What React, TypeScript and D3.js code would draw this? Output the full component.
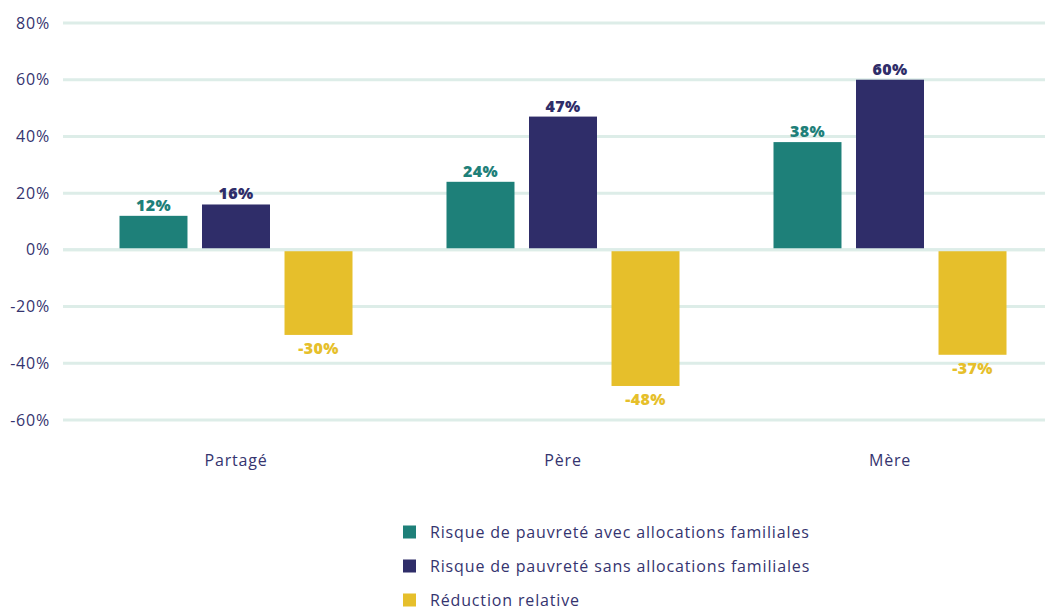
import * as d3 from 'd3';
import { useEffect, useRef } from 'react';

const categories = ['Partagé', 'Père', 'Mère'];
const seriesNames = [
  'Risque de pauvreté avec allocations familiales',
  'Risque de pauvreté sans allocations familiales',
  'Réduction relative',
];
const avecAllocations = [12, 24, 38];
const sansAllocations = [16, 47, 60];
const reduction = [-30, -48, -37];
const yTicks = [-60, -40, -20, 0, 20, 40, 60, 80];

const colors = ['#1e8079', '#2f2d69', '#e6bf2b'];
const textColor = '#35346f';
const gridColor = '#ddede8';
const font = '"Open Sans", sans-serif';

const width = 1049;
const height = 612;

export default function App() {
  const ref = useRef<SVGSVGElement>(null);

  useEffect(() => {
    const svg = d3.select(ref.current);
    svg.selectAll('*').remove();

    const series = [avecAllocations, sansAllocations, reduction];

    const y = d3.scaleLinear().domain([-60, 80]).range([420, 23]);
    const x0 = d3.scaleBand().domain(categories).range([72.5, 1053.5]);
    const x1 = d3
      .scaleBand()
      .domain(seriesNames)
      .range([0, 233])
      .paddingInner(0.176);
    const groupOffset = (x0.bandwidth() - 233) / 2;

    // grid lines
    svg
      .append('g')
      .selectAll('line')
      .data(yTicks)
      .enter()
      .append('line')
      .attr('x1', 63)
      .attr('x2', 1045)
      .attr('y1', (d) => y(d))
      .attr('y2', (d) => y(d))
      .attr('stroke', gridColor)
      .attr('stroke-width', 3);

    // y tick labels
    svg
      .append('g')
      .selectAll('text')
      .data(yTicks)
      .enter()
      .append('text')
      .attr('x', 50)
      .attr('y', (d) => y(d))
      .attr('dy', '0.35em')
      .attr('text-anchor', 'end')
      .attr('font-family', font)
      .attr('font-size', 16)
      .attr('letter-spacing', 0.8)
      .attr('fill', textColor)
      .text((d) => `${d}%`);

    const rows = categories.flatMap((cat, i) =>
      seriesNames.map((name, j) => ({ cat, name, j, value: series[j][i] }))
    );

    const bars = svg.append('g');
    bars
      .selectAll('rect')
      .data(rows)
      .enter()
      .append('rect')
      .attr('x', (d) => x0(d.cat)! + groupOffset + x1(d.name)!)
      .attr('width', x1.bandwidth())
      .attr('y', (d) => y(Math.max(0, d.value)))
      .attr('height', (d) => Math.abs(y(d.value) - y(0)))
      .attr('fill', (d) => colors[d.j]);

    // zero line on top of bars
    svg
      .append('line')
      .attr('x1', 63)
      .attr('x2', 1045)
      .attr('y1', y(0))
      .attr('y2', y(0))
      .attr('stroke', gridColor)
      .attr('stroke-width', 3);

    // value labels
    svg
      .append('g')
      .selectAll('text')
      .data(rows)
      .enter()
      .append('text')
      .attr('x', (d) => x0(d.cat)! + groupOffset + x1(d.name)! + x1.bandwidth() / 2)
      .attr('y', (d) => (d.value >= 0 ? y(d.value) - 5 : y(d.value) + 19))
      .attr('text-anchor', 'middle')
      .attr('font-family', font)
      .attr('font-weight', 800)
      .attr('font-size', 16)
      .attr('letter-spacing', 0.4)
      .attr('fill', (d) => colors[d.j])
      .text((d) => `${d.value}%`);

    // category labels
    svg
      .append('g')
      .selectAll('text')
      .data(categories)
      .enter()
      .append('text')
      .attr('x', (d) => x0(d)! + x0.bandwidth() / 2)
      .attr('y', 460)
      .attr('dy', '0.35em')
      .attr('text-anchor', 'middle')
      .attr('font-family', font)
      .attr('font-size', 16)
      .attr('letter-spacing', 0.8)
      .attr('fill', textColor)
      .text((d) => d);

    // legend
    const legend = svg
      .append('g')
      .selectAll('g')
      .data(seriesNames)
      .enter()
      .append('g')
      .attr('transform', (_, i) => `translate(403,${532 + i * 34})`);

    legend
      .append('rect')
      .attr('x', 0)
      .attr('y', -6.5)
      .attr('width', 13)
      .attr('height', 13)
      .attr('fill', (_, i) => colors[i]);

    legend
      .append('text')
      .attr('x', 27)
      .attr('y', 0)
      .attr('dy', '0.35em')
      .attr('font-family', font)
      .attr('font-size', 16)
      .attr('letter-spacing', 0.85)
      .attr('fill', textColor)
      .text((d) => d);
  }, []);

  return (
    <svg
      ref={ref}
      width={width}
      height={height}
      style={{ position: 'absolute', left: 0, top: 0, background: '#fff' }}
    />
  );
}
